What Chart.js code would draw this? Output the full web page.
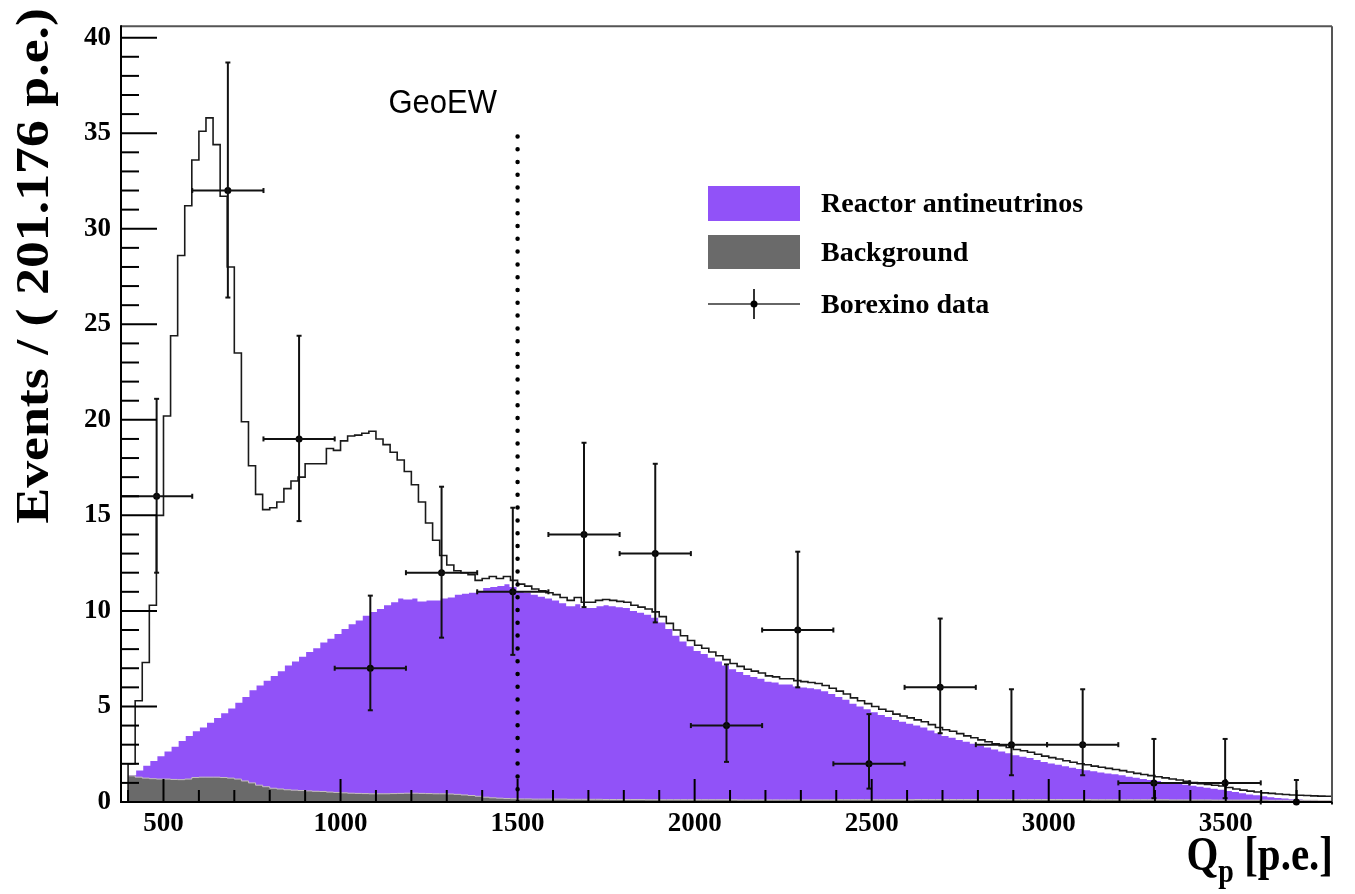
<!DOCTYPE html>
<html>
<head>
<meta charset="utf-8">
<title>Qp spectrum - GeoEW</title>
<script src="https://cdn.jsdelivr.net/npm/chart.js@4.4.0/dist/chart.umd.min.js"></script>
<style>
  html, body { margin: 0; padding: 0; background: #fff; }
  #wrap { width: 1355px; height: 894px; }
</style>
</head>
<body>
<div id="wrap"><canvas id="myChart" width="1355" height="894"></canvas></div>
<script>
// fine histograms: 20 p.e. bins from 400 to 3800
const binStart = 400;
const binWidth = 20;

const totalFit = [
  2.0, 5.3, 7.3, 10.3, 15.0, 20.2, 24.4, 28.6, 31.2, 33.6,
  35.1, 35.8, 34.4, 31.7, 28.0, 23.5, 19.9, 17.6, 16.1, 15.3,
  15.4, 15.7, 16.4, 16.8, 17.0, 17.7, 17.7, 17.7, 18.5, 18.4,
  18.9, 19.15, 19.2, 19.3, 19.4, 19.0, 18.7, 18.3, 17.9, 17.3,
  16.6, 15.7, 14.6, 13.7, 12.9, 12.4, 12.1, 12.0, 11.9, 11.6,
  11.7, 11.8, 11.7, 11.8, 11.6, 11.4, 11.3, 11.15, 11.05, 10.95,
  10.85, 10.7, 10.55, 10.7, 10.45, 10.45, 10.55, 10.6, 10.55, 10.5,
  10.45, 10.3, 10.2, 10.1, 9.95, 9.7, 9.35, 9.0, 8.7, 8.45,
  8.2, 8.05, 7.85, 7.65, 7.45, 7.25, 7.1, 6.95, 6.85, 6.75,
  6.6, 6.55, 6.45, 6.45, 6.35, 6.3, 6.25, 6.2, 6.1, 5.95,
  5.8, 5.65, 5.45, 5.3, 5.15, 5.0, 4.85, 4.75, 4.6, 4.5,
  4.4, 4.3, 4.2, 4.05, 3.9, 3.78, 3.7, 3.58, 3.46, 3.36,
  3.25, 3.15, 3.05, 2.95, 2.85, 2.75, 2.68, 2.6, 2.5, 2.4,
  2.32, 2.25, 2.16, 2.08, 2.0, 1.95, 1.88, 1.82, 1.76, 1.7,
  1.64, 1.57, 1.5, 1.44, 1.38, 1.32, 1.26, 1.2, 1.15, 1.08,
  1.02, 0.96, 0.92, 0.88, 0.84, 0.76, 0.68, 0.62, 0.57, 0.52,
  0.48, 0.45, 0.42, 0.39, 0.37, 0.35, 0.34, 0.32, 0.31, 0.3
];

const reactor = [
  1.45, 1.7, 1.95, 2.2, 2.45, 2.7, 2.95, 3.25, 3.5, 3.75,
  3.95, 4.2, 4.45, 4.7, 4.95, 5.25, 5.55, 5.9, 6.15, 6.4,
  6.65, 6.9, 7.2, 7.4, 7.65, 7.9, 8.1, 8.4, 8.6, 8.85,
  9.1, 9.35, 9.55, 9.8, 10.0, 10.15, 10.35, 10.5, 10.7, 10.65,
  10.7, 10.55, 10.6, 10.6, 10.7, 10.75, 10.9, 10.95, 11.0, 11.1,
  11.25, 11.3, 11.35, 11.45, 11.3, 11.1, 11.0, 10.9, 10.8, 10.7,
  10.6, 10.45, 10.3, 10.4, 10.2, 10.2, 10.3, 10.35, 10.3, 10.25,
  10.2, 10.05, 9.95, 9.85, 9.7, 9.45, 9.1, 8.75, 8.45, 8.2,
  7.95, 7.8, 7.6, 7.4, 7.2, 7.0, 6.85, 6.7, 6.6, 6.5,
  6.35, 6.3, 6.2, 6.2, 6.1, 6.05, 6.0, 5.95, 5.85, 5.7,
  5.55, 5.4, 5.2, 5.05, 4.9, 4.75, 4.6, 4.5, 4.35, 4.25,
  4.15, 4.05, 3.95, 3.8, 3.65, 3.5, 3.42, 3.3, 3.2, 3.1,
  3.0, 2.9, 2.8, 2.7, 2.6, 2.5, 2.42, 2.35, 2.25, 2.15,
  2.07, 2.0, 1.92, 1.85, 1.78, 1.71, 1.66, 1.6, 1.55, 1.5,
  1.45, 1.38, 1.32, 1.26, 1.2, 1.15, 1.1, 1.06, 1.02, 0.95,
  0.9, 0.85, 0.8, 0.75, 0.69, 0.63, 0.57, 0.51, 0.45, 0.4,
  0.35, 0.3, 0.26, 0.23, 0.2, 0.18, 0.15, 0.13, 0.12, 0.1
];

const background = [
  1.37, 1.3, 1.25, 1.22, 1.2, 1.2, 1.18, 1.17, 1.2, 1.28,
  1.3, 1.3, 1.3, 1.28, 1.25, 1.2, 1.1, 1.0, 0.88, 0.8,
  0.72, 0.68, 0.64, 0.62, 0.6, 0.58, 0.56, 0.55, 0.52, 0.5,
  0.48, 0.46, 0.45, 0.44, 0.43, 0.43, 0.43, 0.44, 0.45, 0.46,
  0.46, 0.45, 0.44, 0.43, 0.43, 0.42, 0.4, 0.37, 0.34, 0.3,
  0.25, 0.22, 0.2, 0.18, 0.17, 0.16, 0.16, 0.15, 0.15, 0.15,
  0.15, 0.15, 0.14, 0.14, 0.14, 0.14, 0.14, 0.13, 0.13, 0.13,
  0.13, 0.13, 0.13, 0.12, 0.12, 0.12, 0.12, 0.12, 0.12, 0.12,
  0.12, 0.12, 0.12, 0.12, 0.12, 0.12, 0.11, 0.11, 0.11, 0.11,
  0.11, 0.11, 0.11, 0.11, 0.11, 0.11, 0.11, 0.11, 0.11, 0.11,
  0.12, 0.12, 0.12, 0.12, 0.12, 0.12, 0.12, 0.12, 0.12, 0.12,
  0.12, 0.13, 0.13, 0.13, 0.13, 0.13, 0.13, 0.13, 0.13, 0.13,
  0.13, 0.13, 0.13, 0.13, 0.13, 0.13, 0.13, 0.13, 0.13, 0.13,
  0.13, 0.13, 0.13, 0.13, 0.13, 0.13, 0.12, 0.12, 0.12, 0.12,
  0.12, 0.12, 0.12, 0.12, 0.12, 0.12, 0.12, 0.11, 0.11, 0.11,
  0.11, 0.11, 0.11, 0.1, 0.1, 0.1, 0.1, 0.1, 0.1, 0.1,
  0.1, 0.09, 0.09, 0.09, 0.09, 0.09, 0.09, 0.09, 0.08, 0.08
];

// Borexino data, bins of 201.176 p.e.
const dataX = [480.6, 681.8, 882.9, 1084.1, 1285.3, 1486.5, 1687.6, 1888.8, 2090.0,
               2291.2, 2492.4, 2693.5, 2894.7, 3095.9, 3297.1, 3498.2, 3699.4];
const dataY = [16, 32, 19, 7, 12, 11, 14, 13, 4, 9, 2, 6, 3, 3, 1, 1, 0];
const errLow = [4.0, 5.6, 4.3, 2.2, 3.4, 3.3, 3.8, 3.6, 1.9, 3.0, 1.3, 2.4, 1.6, 1.6, 0.8, 0.8, 0];
const errHigh = [5.1, 6.7, 5.4, 3.8, 4.5, 4.4, 4.8, 4.7, 3.2, 4.1, 2.6, 3.6, 2.9, 2.9, 2.3, 2.3, 1.15];
const dataHalfWidth = 100.588;

const xTicks = [500, 1000, 1500, 2000, 2500, 3000, 3500];
const yTicks = [0, 5, 10, 15, 20, 25, 30, 35, 40];
const geoEW = [1500, 35.3];

const legendLabels = ['Reactor antineutrinos', 'Background', 'Borexino data'];

const purple = '#9152f8';
const grey = '#6a6a6a';
const serif = '"Liberation Serif", "Times New Roman", serif';

const App = (function() {

    const toSteps = function(values, fromZero) {
        const pts = values.map((v, i) => ({x: binStart + i * binWidth, y: v}));
        pts.push({x: binStart + values.length * binWidth, y: values[values.length - 1]});
        if (fromZero) pts.unshift({x: binStart, y: 0});
        return pts;
    };

    const line = function(ctx, x0, y0, x1, y1) {
        ctx.beginPath();
        ctx.moveTo(x0, y0);
        ctx.lineTo(x1, y1);
        ctx.stroke();
    };

    // error bars on the data points
    const errorBars = {
        id: 'errorBars',
        afterDatasetsDraw(chart) {
            const {ctx, scales: {x, y}} = chart;
            ctx.save();
            ctx.strokeStyle = '#111';
            ctx.lineWidth = 2;
            dataX.forEach((q, i) => {
                const px = x.getPixelForValue(q);
                const py = y.getPixelForValue(dataY[i]);
                const x0 = x.getPixelForValue(q - dataHalfWidth);
                const x1 = x.getPixelForValue(q + dataHalfWidth);
                const y0 = y.getPixelForValue(dataY[i] - errLow[i]);
                const y1 = y.getPixelForValue(dataY[i] + errHigh[i]);
                line(ctx, x0, py, x1, py);
                line(ctx, px, y0, px, y1);
                line(ctx, x0, py - 2.5, x0, py + 2.5);
                line(ctx, x1, py - 2.5, x1, py + 2.5);
                line(ctx, px - 2.5, y1, px + 2.5, y1);
                if (errLow[i] > 0) line(ctx, px - 2.5, y0, px + 2.5, y0);
            });
            ctx.restore();
        }
    };

    // ROOT style frame, inward ticks, titles, legend
    const decorations = {
        id: 'decorations',
        afterDraw(chart) {
            const {ctx, chartArea: a, scales: {x, y}} = chart;
            ctx.save();

            ctx.lineWidth = 2;
            ctx.strokeStyle = '#555';
            line(ctx, a.left, a.top, a.right, a.top);
            line(ctx, a.right, a.top, a.right, a.bottom);
            ctx.strokeStyle = '#000';
            line(ctx, a.left, a.top - 1, a.left, a.bottom + 1);
            line(ctx, a.left, a.bottom, a.right, a.bottom);

            for (let v = 400; v < 3800; v += 100) {
                const px = x.getPixelForValue(v);
                line(ctx, px, a.bottom, px, a.bottom - (v % 500 === 0 ? 23 : 12));
            }
            for (let v = 0; v <= 40; v += 1) {
                const py = y.getPixelForValue(v);
                line(ctx, a.left, py, a.left + (v % 5 === 0 ? 36 : 18), py);
            }

            // axis titles (the original figure is a bit stretched vertically)
            ctx.fillStyle = '#000';
            ctx.save();
            ctx.translate(36, 8);
            ctx.rotate(-Math.PI / 2);
            ctx.scale(1.17, 1);
            ctx.font = 'bold 46px ' + serif;
            ctx.textAlign = 'right';
            ctx.textBaseline = 'middle';
            ctx.fillText('Events / ( 201.176 p.e.)', 0, 0);
            ctx.restore();

            ctx.save();
            ctx.translate(0, 870);
            ctx.scale(1, 1.17);
            ctx.textBaseline = 'alphabetic';
            ctx.textAlign = 'left';
            ctx.font = 'bold 41px ' + serif;
            const rest = ' [p.e.]';
            const wRest = ctx.measureText(rest).width;
            const wQ = ctx.measureText('Q').width;
            ctx.font = 'bold 28px ' + serif;
            const wP = ctx.measureText('p').width;
            const tx = a.right + 1 - wRest - wP - wQ;
            ctx.font = 'bold 41px ' + serif;
            ctx.fillText('Q', tx, 0);
            ctx.font = 'bold 28px ' + serif;
            ctx.fillText('p', tx + wQ, 10);
            ctx.font = 'bold 41px ' + serif;
            ctx.fillText(rest, tx + wQ + wP, 0);
            ctx.restore();

            // GeoEW label
            ctx.save();
            ctx.translate(497, 104);
            ctx.scale(1, 1.1);
            ctx.font = '31px "Liberation Sans", Arial, sans-serif';
            ctx.textAlign = 'right';
            ctx.textBaseline = 'middle';
            ctx.fillText('GeoEW', 0, 0);
            ctx.restore();

            // legend
            ctx.fillStyle = purple;
            ctx.fillRect(708, 186, 92, 35);
            ctx.fillStyle = grey;
            ctx.fillRect(708, 235, 92, 34);
            ctx.strokeStyle = '#333';
            ctx.lineWidth = 1.5;
            line(ctx, 708, 304, 800, 304);
            ctx.lineWidth = 2;
            line(ctx, 754, 289, 754, 319);
            ctx.fillStyle = '#000';
            ctx.beginPath();
            ctx.arc(754, 304, 3.5, 0, Math.PI * 2);
            ctx.fill();

            ctx.font = 'bold 28px ' + serif;
            ctx.textAlign = 'left';
            ctx.textBaseline = 'middle';
            ctx.fillText(legendLabels[0], 821, 205);
            ctx.fillText(legendLabels[1], 821, 254);
            ctx.fillText(legendLabels[2], 821, 306);

            ctx.restore();
        }
    };

    const chart = function() {
        const ctx = document.getElementById('myChart');

        new Chart(ctx, {
            type: 'line',
            data: {
                datasets: [
                    {
                        label: 'Borexino data',
                        data: dataX.map((q, i) => ({x: q, y: dataY[i]})),
                        showLine: false,
                        pointRadius: 3.5,
                        pointBackgroundColor: '#000',
                        pointBorderWidth: 0,
                        clip: false,
                        order: 0
                    },
                    {
                        label: 'GeoEW',
                        data: [{x: geoEW[0], y: 0}, {x: geoEW[0], y: geoEW[1]}],
                        borderColor: '#000',
                        borderWidth: 4.5,
                        borderDash: [0, 12.8],
                        borderCapStyle: 'round',
                        pointRadius: 0,
                        order: 1
                    },
                    {
                        label: 'Total',
                        data: toSteps(totalFit, true),
                        stepped: 'before',
                        borderColor: '#1a1a1a',
                        borderWidth: 1.6,
                        pointRadius: 0,
                        fill: false,
                        order: 2
                    },
                    {
                        label: 'Background',
                        data: toSteps(background, false),
                        stepped: 'before',
                        borderColor: '#c8c0c0',
                        borderWidth: 1,
                        backgroundColor: grey,
                        pointRadius: 0,
                        fill: 'origin',
                        order: 3
                    },
                    {
                        label: 'Reactor antineutrinos',
                        data: toSteps(reactor, false),
                        stepped: 'before',
                        borderColor: '#ffffff',
                        borderWidth: 2,
                        backgroundColor: purple,
                        pointRadius: 0,
                        fill: 'origin',
                        order: 4
                    }
                ]
            },
            options: {
                responsive: false,
                animation: false,
                layout: {padding: {left: 0, right: 23, top: 10, bottom: 0}},
                plugins: {
                    legend: {display: false},
                    tooltip: {enabled: false}
                },
                scales: {
                    x: {
                        type: 'linear',
                        min: 380,
                        max: 3800,
                        afterBuildTicks: s => { s.ticks = xTicks.map(v => ({value: v})); },
                        afterFit: s => { s.height = 92; },
                        grid: {display: false, drawTicks: false},
                        border: {display: false},
                        ticks: {
                            color: '#000',
                            padding: 6,
                            maxRotation: 0,
                            autoSkip: false,
                            callback: v => String(v),
                            font: {family: serif, size: 27, weight: 'bold'}
                        }
                    },
                    y: {
                        type: 'linear',
                        min: 0,
                        max: 40.6,
                        afterBuildTicks: s => { s.ticks = yTicks.map(v => ({value: v})); },
                        afterFit: s => { s.width = 121; },
                        grid: {display: false, drawTicks: false},
                        border: {display: false},
                        ticks: {
                            color: '#000',
                            padding: 10,
                            callback: v => String(v),
                            font: {family: serif, size: 27, weight: 'bold'}
                        }
                    }
                }
            },
            plugins: [errorBars, decorations]
        });
    };

    const init = function() {
        chart();
    };

    return {
        init: init
    };

})();

App.init();
</script>
</body>
</html>
